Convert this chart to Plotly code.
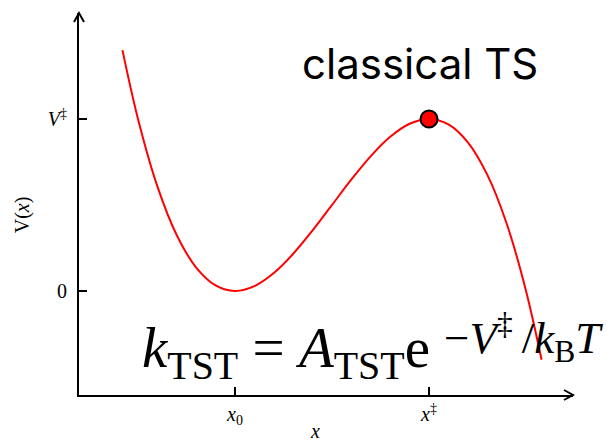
import plotly.graph_objects as go

# Reaction coordinate samples (x0 = 0, x‡ = 1) and potential energy (V‡ = 1)
x_coord = [-0.58, -0.5, -0.4, -0.3, -0.2, -0.1, 0.0, 0.1, 0.2, 0.3, 0.4, 0.5,
           0.6, 0.7, 0.8, 0.9, 1.0, 1.1, 1.2, 1.3, 1.4, 1.5, 1.58]
potential = [1.40, 1.00, 0.608, 0.324, 0.136, 0.032, 0.0, 0.028, 0.104, 0.216,
             0.352, 0.5, 0.648, 0.784, 0.896, 0.972, 1.0, 0.968, 0.864, 0.676,
             0.392, 0.0, -0.40]

# Transition state location
ts_x = [1.0]
ts_v = [1.0]

x_tick_vals = [0, 1]
x_tick_text = ["<i>x</i><sub>0</sub>", "<i>x</i><sup>‡</sup>"]
y_tick_vals = [0, 1]
y_tick_text = ["0", "<i>V</i><sup>‡</sup>"]

SERIF = "Liberation Serif, DejaVu Serif, serif"

fig = go.Figure()
fig.add_trace(go.Scatter(
    x=x_coord, y=potential, mode="lines",
    line=dict(color="#ff0000", width=2, shape="spline", smoothing=1.0),
    hoverinfo="skip", showlegend=False,
))
fig.add_trace(go.Scatter(
    x=ts_x, y=ts_v, mode="markers",
    marker=dict(color="#ff0000", size=17, line=dict(color="black", width=2)),
    hoverinfo="skip", showlegend=False,
))

W, H = 615, 443
ml, mr, mt, mb = 79, 42, 13, 48
pw, ph = W - ml - mr, H - mt - mb

# Open arrowheads at the ends of both axes
arm_l, arm_w = 9, 5
arrow_style = dict(type="path", xref="paper", yref="paper",
                   line=dict(color="black", width=2))
fig.add_shape(path=f"M {-arm_w/pw} {1-arm_l/ph} L 0 1 L {arm_w/pw} {1-arm_l/ph}",
              **arrow_style)
fig.add_shape(path=f"M {1-arm_l/pw} {arm_w/ph} L 1 0 L {1-arm_l/pw} {-arm_w/ph}",
              **arrow_style)

fig.add_annotation(
    x=0.954, y=1.32, xref="x", yref="y", showarrow=False,
    text="classical TS", font=dict(family="Inter, Lato, sans-serif", size=42, color="black"),
)

# Rate expression: prefactor and exponent set as two pieces
fig.add_annotation(
    x=-0.49, y=-0.355, xref="x", yref="y", xanchor="left", yanchor="middle",
    showarrow=False,
    text="<i>k</i><sub>TST</sub> = <i>A</i><sub>TST</sub>e",
    font=dict(family=SERIF, size=57, color="black"),
)
fig.add_annotation(
    x=1.067, y=-0.273, xref="x", yref="y", xanchor="left", yanchor="middle",
    showarrow=False,
    text="−<i>V</i><sup>‡</sup>\u2009/<i>k</i><sub>B</sub><i>T</i>",
    font=dict(family=SERIF, size=45, color="black"),
)

# Axis titles
fig.add_annotation(
    x=(22 - ml) / pw, y=0.44, xref="paper", yref="y", showarrow=False,
    xanchor="center", yanchor="middle",
    textangle=-90, text="V(<i>x</i>)",
    font=dict(family=SERIF, size=20, color="black"),
)
fig.add_annotation(
    x=0.41, y=(395 - 431) / ph, xref="x", yref="paper", showarrow=False,
    xanchor="center", yanchor="middle",
    text="<i>x</i>", font=dict(family=SERIF, size=20, color="black"),
)

fig.update_layout(
    width=W, height=H,
    margin=dict(l=ml, r=mr, t=mt, b=mb),
    paper_bgcolor="white", plot_bgcolor="white",
    xaxis=dict(
        range=[-0.804, 1.742], showgrid=False, zeroline=False,
        showline=True, linecolor="black", linewidth=2,
        ticks="inside", ticklen=8, tickwidth=1.5, tickcolor="black",
        tickvals=x_tick_vals, ticktext=x_tick_text, ticklabelstandoff=0,
        tickfont=dict(family=SERIF, size=20, color="black"),
        fixedrange=True,
    ),
    yaxis=dict(
        range=[-0.605, 1.616], showgrid=False, zeroline=False,
        showline=True, linecolor="black", linewidth=2,
        ticks="inside", ticklen=8, tickwidth=1.5, tickcolor="black",
        tickvals=y_tick_vals, ticktext=y_tick_text, ticklabelstandoff=6,
        tickfont=dict(family=SERIF, size=20, color="black"),
        fixedrange=True,
    ),
)

fig.write_html("out.html")
